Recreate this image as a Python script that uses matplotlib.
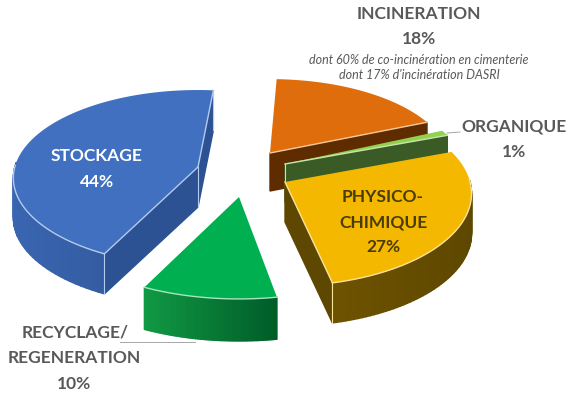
import numpy as np
import matplotlib
matplotlib.use("Agg")
import matplotlib.pyplot as plt
from matplotlib.colors import to_rgb

plt.rcParams['font.family'] = ['Lato', 'DejaVu Sans']

# ===================== data =====================
categories = ["STOCKAGE", "INCINERATION", "ORGANIQUE", "PHYSICO-\nCHIMIQUE", "RECYCLAGE/\nREGENERATION"]
values = [44, 18, 1, 27, 10]

# ===================== look of each slice =====================
centers = [(198, 167), (270, 153), (285, 164), (285, 182), (239, 197)]
angle_shift = [1, -2, -3, -3, 0]
rx_scale = [0.985, 0.96, 0.97, 0.995, 1.03]
ry_scale = [1.0, 0.96, 1.0, 1.05, 1.03]
depths = [40, 38, 38, 40, 42]
top_colors = ["#4170C1", "#DF6D0C", "#92D050", "#F4B800", "#00B050"]
side_left = ["#3A65B0", "#5F2C00", "#3A5B25", "#6E5300", "#119A45"]
side_right = ["#2C5293", "#5F2C00", "#3A5B25", "#5E4700", "#005C28"]
rim_colors = ["#B5CBEE", "#F7C9A0", "#C8E6A8", "#FBE39A", "#A6E6BE"]

START = 206
RX, RY, PERSP = 186, 86.6, 0.125

W, H = 568, 396
fig = plt.figure(figsize=(W / 100, H / 100), dpi=100)
ax = fig.add_axes([0, 0, 1, 1])
ax.set_xlim(0, W)
ax.set_ylim(H, 0)
ax.axis("off")


def project(theta, i):
    # theta : degrees clockwise from the back of the pie
    t = np.radians(theta)
    u, v = np.sin(t), np.cos(t)
    s = 1 / (1 + PERSP * v)
    c = centers[i]
    return c[0] + RX * rx_scale[i] * u * s, c[1] - RY * ry_scale[i] * v * s


def mix(a, b, k):
    a, b = np.array(to_rgb(a)), np.array(to_rgb(b))
    return tuple(a + (b - a) * k)


def radial_visible(a, m, i):
    # the face of a radial edge shows if going down leaves the wedge
    c = np.array(centers[i])
    d = np.array(project(a, i)) - c
    mid = np.array(project(m, i)) - c
    return d[0] * (d[0] * mid[1] - d[1] * mid[0]) < 0


# ===================== slices =====================
angle = START
slices = []
for i, val in enumerate(values):
    sweep = val * 3.6
    slices.append((i, angle + angle_shift[i], angle + angle_shift[i] + sweep))
    angle += sweep

for i, a, b in slices:
    c = centers[i]
    m = (a + b) / 2
    depth = depths[i]
    faces = []

    th = np.linspace(a, b, 80)
    xs, ys = project(th, i)
    for j in range(len(th) - 1):
        if np.cos(np.radians(th[j])) > 0.05:
            continue
        # shading runs from the left end of the slice to its right end
        k = (xs.max() - xs[j]) / (xs.max() - xs.min())
        poly = [(xs[j], ys[j]), (xs[j + 1], ys[j + 1]),
                (xs[j + 1], ys[j + 1] + depth), (xs[j], ys[j] + depth)]
        faces.append((ys[j] + depth / 2, poly, mix(side_right[i], side_left[i], k)))

    edges = []
    for e in (a, b):
        if radial_visible(e, m, i):
            ex, ey = project(e, i)
            poly = [c, (ex, ey), (ex, ey + depth), (c[0], c[1] + depth)]
            faces.append(((c[1] + ey) / 2 + depth / 2, poly, side_right[i]))
            edges.append((ex, ey))

    z_side = 3 if i == 3 else 2 + i * 0.1
    for _, poly, col in sorted(faces, key=lambda f: f[0]):
        ax.fill(*zip(*poly), color=col, lw=1, zorder=z_side)

    z = 3.5 if i == 3 else 2.9
    ax.fill(np.r_[c[0], xs], np.r_[c[1], ys], color=top_colors[i], lw=0, zorder=z)

    front = np.cos(np.radians(th)) < 0.05
    ax.plot(xs[front], ys[front], color=rim_colors[i], lw=1, zorder=z + 0.01)
    for ex, ey in edges:
        ax.plot([c[0], ex], [c[1], ey], color=rim_colors[i], lw=1, zorder=z + 0.01)
        if i in (0, 3):
            ax.plot([ex, ex], [ey, ey + depth], color=rim_colors[i], lw=0.8, zorder=z + 0.01)
    if i in (0, 2):
        ax.plot([c[0], c[0]], [c[1], c[1] + depth], color=rim_colors[i], lw=0.8,
                zorder=z_side + 0.01)

# ===================== leader lines =====================
ax.plot([120, 195], [342, 342], color="#A6A6A6", lw=0.7, zorder=1)
ax.plot([447, 460], [133, 132], color="#A6A6A6", lw=0.7, zorder=1)

# ===================== labels =====================
GREY = "#595959"
BOLD = dict(ha="center", va="center", fontweight="bold", fontsize=12.5, zorder=6)
NOTE = dict(ha="center", va="center", style="italic", fontsize=9, zorder=6)

ax.text(97, 156, categories[0], color="white", **BOLD)
ax.text(97, 182, f"{values[0]}%", color="white", **BOLD)

ax.text(419, 14, categories[1], color=GREY, **BOLD)
ax.text(419, 39, f"{values[1]}%", color=GREY, **BOLD)
ax.text(419, 60, "dont 60% de co-incinération en cimenterie", color=GREY, **NOTE)
ax.text(419, 75, "dont 17% d'incinération DASRI", color=GREY, **NOTE)

ax.text(514, 126, categories[2], color=GREY, **BOLD)
ax.text(514, 152, f"{values[2]}%", color=GREY, **BOLD)

phys1, phys2 = categories[3].split("\n")
ax.text(383, 197, phys1, color="#4A3C05", **BOLD)
ax.text(383, 222, phys2, color="#4A3C05", **BOLD)
ax.text(383, 247, f"{values[3]}%", color="#4A3C05", **BOLD)

rec1, rec2 = categories[4].split("\n")
ax.text(75, 333, rec1, color=GREY, **BOLD)
ax.text(74, 358, rec2, color=GREY, **BOLD)
ax.text(74, 384, f"{values[4]}%", color=GREY, **BOLD)

fig.savefig("out.png", dpi=100)
